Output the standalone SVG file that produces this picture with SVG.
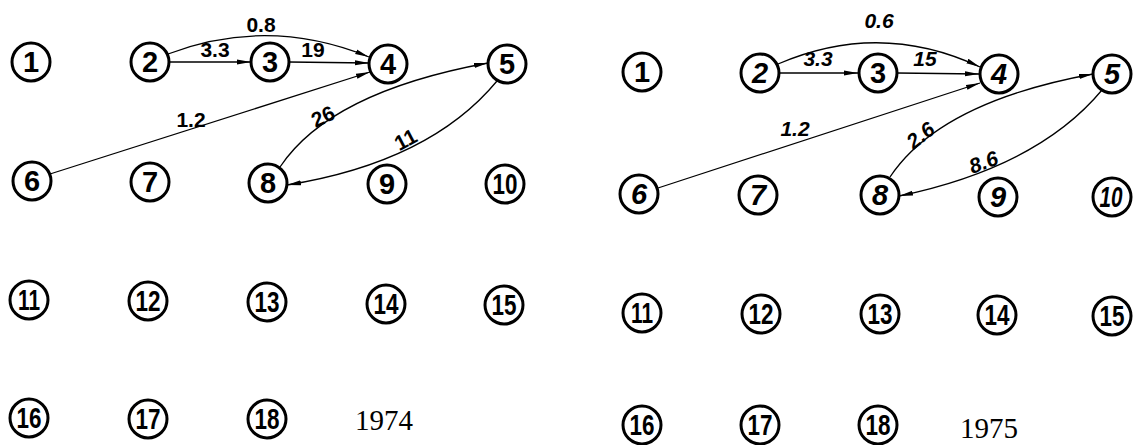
<svg xmlns="http://www.w3.org/2000/svg" width="1133" height="445" viewBox="0 0 1133 445">
<style>
.n circle{fill:#fff;stroke:#000;stroke-width:3}
.n text{font-family:"Liberation Sans",Arial,sans-serif;font-size:29px;font-weight:bold;text-anchor:middle;fill:#000}
.r text{font-style:italic}
.e{fill:none;stroke:#000;stroke-width:1.3}
.lbl{font-family:"Liberation Sans",Arial,sans-serif;font-size:21px;font-weight:bold;text-anchor:middle;fill:#000}
.rl{font-style:italic}
.yr{font-family:"Liberation Serif","Times New Roman",serif;font-size:29px;text-anchor:middle;fill:#000}
</style>
<defs>
<marker id="a" markerWidth="15" markerHeight="7" refX="14" refY="3.5" orient="auto" markerUnits="userSpaceOnUse">
<path d="M0,1 L14,3.5 L0,6 z" fill="#000"/>
</marker>
</defs>
<rect width="1133" height="445" fill="#fff"/>
<g id="edges">
<path class="e" d="M168,54 Q268,16 369,57" marker-end="url(#a)"/>
<path class="e" d="M169,62 L251,62" marker-end="url(#a)"/>
<path class="e" d="M289,62 L369,63" marker-end="url(#a)"/>
<path class="e" d="M50,174 L370,72" marker-end="url(#a)"/>
<path class="e" d="M280,167 Q330,92 488,63" marker-end="url(#a)"/>
<path class="e" d="M497,81 Q430,162 287,185" marker-end="url(#a)"/>
<text class="lbl" x="261" y="32">0.8</text>
<text class="lbl" x="215" y="57">3.3</text>
<text class="lbl" x="313" y="57">19</text>
<text class="lbl" x="191" y="127">1.2</text>
<text class="lbl" transform="translate(326,123) rotate(-25)">26</text>
<text class="lbl" transform="translate(409,146) rotate(-28)">11</text>
<path class="e" d="M778,64 Q880,20 980,67" marker-end="url(#a)"/>
<path class="e" d="M779,73 L858,73" marker-end="url(#a)"/>
<path class="e" d="M897,73 L979,74" marker-end="url(#a)"/>
<path class="e" d="M658,188 L980,83" marker-end="url(#a)"/>
<path class="e" d="M890,177 Q940,102 1093,74" marker-end="url(#a)"/>
<path class="e" d="M1102,90 Q1038,167 899,196" marker-end="url(#a)"/>
<text class="lbl rl" x="879" y="28">0.6</text>
<text class="lbl rl" x="818" y="66">3.3</text>
<text class="lbl rl" x="925" y="66">15</text>
<text class="lbl rl" x="795" y="136">1.2</text>
<text class="lbl rl" transform="translate(925,141) rotate(-38)">2.6</text>
<text class="lbl rl" transform="translate(986,169) rotate(-20)">8.6</text>
</g>
<g id="L1" class="n"><circle cx="31" cy="62" r="19"/><text x="31" y="72">1</text></g>
<g id="L2" class="n"><circle cx="150" cy="62" r="19"/><text x="150" y="72">2</text></g>
<g id="L3" class="n"><circle cx="270" cy="62" r="19"/><text x="270" y="72">3</text></g>
<g id="L4" class="n"><circle cx="388" cy="64" r="19"/><text x="388" y="74">4</text></g>
<g id="L5" class="n"><circle cx="507" cy="64" r="19"/><text x="507" y="74">5</text></g>
<g id="L6" class="n"><circle cx="32" cy="181" r="19"/><text x="32" y="191">6</text></g>
<g id="L7" class="n"><circle cx="150" cy="182" r="19"/><text x="150" y="192">7</text></g>
<g id="L8" class="n"><circle cx="268" cy="183" r="19"/><text x="268" y="193">8</text></g>
<g id="L9" class="n"><circle cx="387" cy="184" r="19"/><text x="387" y="194">9</text></g>
<g id="L10" class="n"><circle cx="505" cy="184" r="19"/><text x="505" y="194" textLength="25" lengthAdjust="spacingAndGlyphs">10</text></g>
<g id="L11" class="n"><circle cx="29" cy="300" r="19"/><text x="29" y="310" textLength="22" lengthAdjust="spacingAndGlyphs">11</text></g>
<g id="L12" class="n"><circle cx="148" cy="301" r="19"/><text x="148" y="311" textLength="25" lengthAdjust="spacingAndGlyphs">12</text></g>
<g id="L13" class="n"><circle cx="267" cy="302" r="19"/><text x="267" y="312" textLength="25" lengthAdjust="spacingAndGlyphs">13</text></g>
<g id="L14" class="n"><circle cx="386" cy="304" r="19"/><text x="386" y="314" textLength="25" lengthAdjust="spacingAndGlyphs">14</text></g>
<g id="L15" class="n"><circle cx="504" cy="305" r="19"/><text x="504" y="315" textLength="25" lengthAdjust="spacingAndGlyphs">15</text></g>
<g id="L16" class="n"><circle cx="29" cy="418" r="19"/><text x="29" y="428" textLength="25" lengthAdjust="spacingAndGlyphs">16</text></g>
<g id="L17" class="n"><circle cx="148" cy="419" r="19"/><text x="148" y="429" textLength="25" lengthAdjust="spacingAndGlyphs">17</text></g>
<g id="L18" class="n"><circle cx="267" cy="419" r="19"/><text x="267" y="429" textLength="25" lengthAdjust="spacingAndGlyphs">18</text></g>
<text id="y1974" class="yr" x="384" y="430">1974</text>
<g id="R1" class="n"><circle cx="642" cy="72" r="19"/><text x="642" y="82">1</text></g>
<g id="R2" class="n r"><circle cx="760" cy="73" r="19"/><text x="760" y="83">2</text></g>
<g id="R3" class="n"><circle cx="878" cy="73" r="19"/><text x="878" y="83">3</text></g>
<g id="R4" class="n r"><circle cx="999" cy="74" r="19"/><text x="999" y="84">4</text></g>
<g id="R5" class="n r"><circle cx="1112" cy="74" r="19"/><text x="1112" y="84">5</text></g>
<g id="R6" class="n r"><circle cx="639" cy="194" r="19"/><text x="639" y="204">6</text></g>
<g id="R7" class="n r"><circle cx="758" cy="195" r="19"/><text x="758" y="205">7</text></g>
<g id="R8" class="n r"><circle cx="880" cy="195" r="19"/><text x="880" y="205">8</text></g>
<g id="R9" class="n r"><circle cx="998" cy="197" r="19"/><text x="998" y="207">9</text></g>
<g id="R10" class="n r"><circle cx="1112" cy="197" r="19"/><text x="1111" y="207" textLength="23" lengthAdjust="spacingAndGlyphs">10</text></g>
<g id="R11" class="n"><circle cx="642" cy="313" r="19"/><text x="642" y="323" textLength="22" lengthAdjust="spacingAndGlyphs">11</text></g>
<g id="R12" class="n"><circle cx="761" cy="314" r="19"/><text x="761" y="324" textLength="25" lengthAdjust="spacingAndGlyphs">12</text></g>
<g id="R13" class="n"><circle cx="880" cy="314" r="19"/><text x="880" y="324" textLength="25" lengthAdjust="spacingAndGlyphs">13</text></g>
<g id="R14" class="n"><circle cx="997" cy="315" r="19"/><text x="997" y="325" textLength="25" lengthAdjust="spacingAndGlyphs">14</text></g>
<g id="R15" class="n"><circle cx="1112" cy="316" r="19"/><text x="1112" y="326" textLength="25" lengthAdjust="spacingAndGlyphs">15</text></g>
<g id="R16" class="n"><circle cx="642" cy="425" r="19"/><text x="642" y="435" textLength="25" lengthAdjust="spacingAndGlyphs">16</text></g>
<g id="R17" class="n"><circle cx="760" cy="425" r="19"/><text x="760" y="435" textLength="25" lengthAdjust="spacingAndGlyphs">17</text></g>
<g id="R18" class="n"><circle cx="878" cy="425" r="19"/><text x="878" y="435" textLength="25" lengthAdjust="spacingAndGlyphs">18</text></g>
<text id="y1975" class="yr" x="989" y="438">1975</text>
</svg>
